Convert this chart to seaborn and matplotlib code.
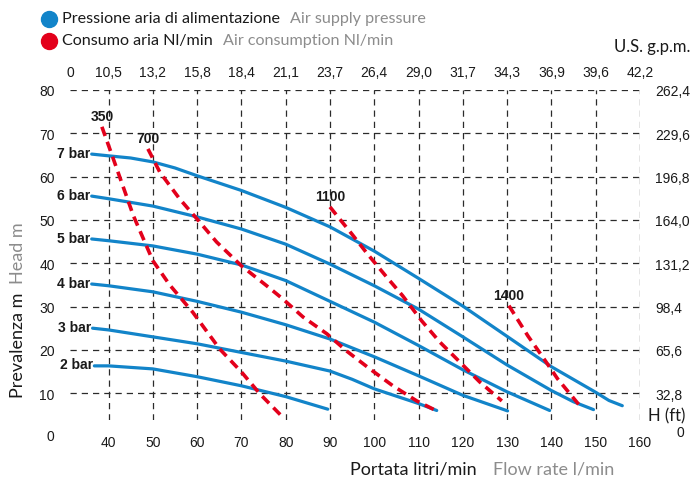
import matplotlib
matplotlib.use("Agg")
import matplotlib.pyplot as plt
from matplotlib.lines import Line2D
import numpy as np
import pandas as pd
import seaborn as sns

# ---------------- data ----------------
flow_ticks = [40, 50, 60, 70, 80, 90, 100, 110, 120, 130, 140, 150, 160]
gpm_labels = ["0", "10,5", "13,2", "15,8", "18,4", "21,1", "23,7", "26,4",
              "29,0", "31,7", "34,3", "36,9", "39,6", "42,2"]
head_ticks = [10, 20, 30, 40, 50, 60, 70, 80]
ft_labels = ["32,8", "65,6", "98,4", "131,2", "164,0", "196,8", "229,6", "262,4"]

bar_labels = ["2 bar", "3 bar", "4 bar", "5 bar", "6 bar", "7 bar"]
q_2bar = [36.8, 40, 50, 60, 70, 80, 89.5]
h_2bar = [16.3, 16.3, 15.6, 13.8, 11.7, 9.2, 6.3]
q_3bar = [36.4, 40, 50, 60, 70, 80, 90, 95, 100, 110, 114.1]
h_3bar = [25.0, 24.6, 23.0, 21.4, 19.4, 17.4, 15.1, 13.2, 11.0, 7.6, 6.0]
q_4bar = [36.2, 40, 50, 60, 70, 80, 90, 100, 110, 120, 130.1]
h_4bar = [35.2, 34.8, 33.4, 31.2, 28.7, 25.8, 22.5, 18.4, 14.0, 9.5, 5.9]
q_5bar = [36.2, 40, 50, 60, 70, 80, 90, 100, 110, 120, 130, 139.6]
h_5bar = [45.6, 45.2, 44.0, 42.1, 39.6, 36.0, 31.2, 26.4, 21.0, 15.4, 10.3, 6.0]
q_6bar = [36.2, 40, 50, 60, 70, 80, 90, 100, 110, 120, 130, 140, 145, 149.5]
h_6bar = [55.5, 54.9, 53.2, 50.7, 47.9, 44.4, 39.8, 34.8, 29.4, 23.0, 16.5, 10.6, 8.0, 6.2]
q_7bar = [36.2, 40, 45, 50, 55, 60, 70, 80, 90, 100, 110, 120, 130, 140, 150, 153, 156]
h_7bar = [65.2, 64.8, 64.3, 63.4, 62.0, 60.2, 56.8, 52.9, 48.4, 42.8, 36.5, 30.1, 23.1, 16.1, 10.2, 8.3, 7.1]

air_labels = ["350", "700", "1100", "1400"]
q_350 = [38.5, 40.7, 45.6, 50, 53.8, 59, 65.1, 70, 74.2, 79.1]
h_350 = [71.5, 65.2, 51.0, 40.6, 35.0, 28.7, 20.2, 14.9, 9.8, 4.7]
q_700 = [48.9, 51.6, 56.1, 60, 64.4, 70, 75.7, 79.3, 83.9, 89.3, 93.8, 99, 104.2, 109.6, 114.1]
h_700 = [66.4, 61.0, 54.8, 50.2, 44.9, 39.4, 34.8, 31.8, 27.6, 23.7, 19.7, 15.6, 11.7, 8.2, 5.9]
q_1100 = [90, 91.8, 94.9, 98.5, 102.8, 106.4, 110.7, 114.8, 119.3, 123.8, 128.8]
h_1100 = [53.0, 50.7, 46.8, 42.1, 36.8, 32.5, 26.7, 21.8, 17.2, 12.6, 8.2]
q_1400 = [130.4, 134.7, 138, 141.4, 146.4]
h_1400 = [30.2, 23.2, 18.4, 13.3, 7.1]

pressure_q = [q_2bar, q_3bar, q_4bar, q_5bar, q_6bar, q_7bar]
pressure_h = [h_2bar, h_3bar, h_4bar, h_5bar, h_6bar, h_7bar]
air_q = [q_350, q_700, q_1100, q_1400]
air_h = [h_350, h_700, h_1100, h_1400]

pressure_df = pd.concat([pd.DataFrame({"flow": q, "head": h, "curve": lab})
                         for q, h, lab in zip(pressure_q, pressure_h, bar_labels)],
                        ignore_index=True)
air_df = pd.concat([pd.DataFrame({"flow": q, "head": h, "curve": lab})
                    for q, h, lab in zip(air_q, air_h, air_labels)],
                   ignore_index=True)

BLUE = "#1284c9"
RED = "#e3001b"
GREY = "#8c8c8c"
DARK = "#1a1a1a"

# ---------------- style ----------------
sns.set_theme(style="white")
plt.rcParams["font.family"] = ["Liberation Sans", "DejaVu Sans"]
HUM = ["Lato", "DejaVu Sans"]

W, H = 696, 481
fig = plt.figure(figsize=(W / 100, H / 100), dpi=100)
fig.patch.set_facecolor("white")


def fx(px):
    return px / W


def fy(py):
    return 1 - py / H


ax = fig.add_axes([fx(70), fy(421), (640 - 70) / W, (421 - 91) / H])
ax.set_facecolor("white")
x_left = 31.3
ax.set_xlim(x_left, 160)
ax.set_ylim(3.8, 80)

sns.lineplot(data=pressure_df, x="flow", y="head", units="curve", estimator=None,
             sort=False, color=BLUE, linewidth=2.3, ax=ax, legend=False, zorder=3)
sns.lineplot(data=air_df, x="flow", y="head", units="curve", estimator=None,
             sort=False, color=RED, linewidth=2.6, linestyle=(0, (2.7, 1.7)),
             ax=ax, legend=False, zorder=4)

ax.set_xticks(flow_ticks)
ax.set_yticks(head_ticks)
ax.grid(True, color="#2b2b2b", linestyle=(0, (5, 4)), linewidth=0.9, zorder=1)
ax.set_axisbelow(True)
for s in ax.spines.values():
    s.set_visible(False)
ax.tick_params(axis="x", length=0, pad=11, labelsize=10, labelcolor=DARK)
ax.tick_params(axis="y", length=0, pad=11, labelsize=10, labelcolor=DARK)
ax.set_xlabel("")
ax.set_ylabel("")

# top axis (US gpm)
axt = ax.twiny()
axt.set_xlim(ax.get_xlim())
axt.set_xticks([x_left] + flow_ticks)
axt.set_xticklabels(gpm_labels)
axt.tick_params(axis="x", length=0, pad=8, labelsize=10, labelcolor=DARK)
for s in axt.spines.values():
    s.set_visible(False)
axt.grid(False)

# right axis (feet)
axr = ax.twinx()
axr.set_ylim(ax.get_ylim())
axr.set_yticks(head_ticks)
axr.set_yticklabels(ft_labels)
axr.tick_params(axis="y", length=0, pad=11, labelsize=10, labelcolor=DARK)
for s in axr.spines.values():
    s.set_visible(False)
axr.grid(False)

# zero labels
ax.annotate("0", xy=(0, 0), xycoords=("axes fraction", "data"), xytext=(-11, 0),
            textcoords="offset points", ha="right", va="center", fontsize=10,
            color=DARK, annotation_clip=False)
fig.text(fx(680), fy(433), "0", ha="center", va="center", fontsize=10, color=DARK)
fig.text(fx(648), fy(416), "H (ft)", ha="left", va="center", fontsize=12,
         color=DARK, family=HUM)
fig.text(fx(690), fy(47), "U.S. g.p.m.", ha="right", va="center", fontsize=12,
         color=DARK, family=HUM)

# curve labels
for q, h, lab in zip(pressure_q, pressure_h, bar_labels):
    ax.annotate(lab, xy=(q[0], h[0]), xytext=(-1, 1), textcoords="offset points",
                ha="right", va="center", fontsize=10, fontweight="bold",
                color=DARK, annotation_clip=False)
for q, h, lab in zip(air_q, air_h, air_labels):
    ax.annotate(lab, xy=(q[0], h[0]), xytext=(0, 8), textcoords="offset points",
                ha="center", va="center", fontsize=10, fontweight="bold",
                color=DARK, annotation_clip=False)

# legend
for py, col in [(19.5, BLUE), (41.5, RED)]:
    fig.add_artist(Line2D([fx(48.5)], [fy(py)], marker="o", markersize=11.5,
                          color=col, linestyle="none", transform=fig.transFigure))

renderer = fig.canvas.get_renderer()


def two_part(x_px, y_px, black, grey, size, gap_px, rotation=0):
    t1 = fig.text(fx(x_px), fy(y_px), black, ha="left", va="center",
                  fontsize=size, color=DARK, family=HUM)
    bb = t1.get_window_extent(renderer=renderer)
    x2 = bb.x1 + gap_px
    fig.text(x2 / W, fy(y_px), grey, ha="left", va="center",
             fontsize=size, color=GREY, family=HUM)


two_part(62, 19, "Pressione aria di alimentazione", "Air supply pressure", 11.6, 10)
two_part(62, 41, "Consumo aria Nl/min", "Air consumption Nl/min", 11.6, 10)
two_part(350, 470, "Portata litri/min", "Flow rate l/min", 13, 16)

# rotated y title
ty1 = fig.text(fx(18), fy(398), "Prevalenza m", ha="center", va="bottom", rotation=90,
               fontsize=13, color=DARK, family=HUM)
bb = ty1.get_window_extent(renderer=renderer)
fig.text(fx(18), (bb.y1 + 9) / H, "Head m", ha="center", va="bottom", rotation=90,
         fontsize=13, color=GREY, family=HUM)

fig.savefig("out.png", dpi=100, facecolor="white")
